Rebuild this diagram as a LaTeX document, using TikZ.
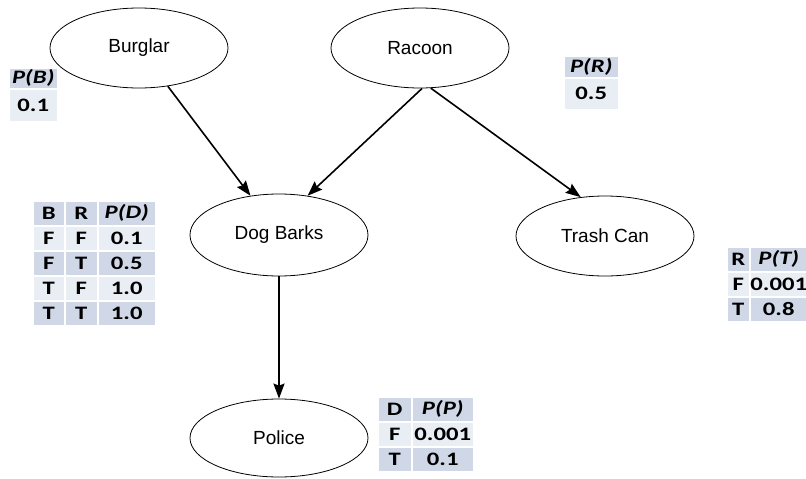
\documentclass[tikz,border=0pt]{standalone}
\usepackage{fontspec}
\setmainfont{Liberation Sans}
\newfontfamily\tabfont[FakeStretch=1.3]{Carlito}
\usetikzlibrary{arrows.meta,shapes.geometric}
\definecolor{dk}{HTML}{D0D8E8}
\definecolor{lt}{HTML}{E9EDF4}
\tikzset{
  var/.style={ellipse, draw=black, line width=0.8pt, minimum width=178pt, minimum height=80pt, inner sep=0pt, font=\fontsize{19}{21}\selectfont},
  edge/.style={line width=1.6pt, -{Stealth[length=15pt,width=11pt,inset=2pt]}},
  cell/.style={rectangle, draw=white, line width=1.5pt, inner sep=0pt, anchor=north west, font=\tabfont\bfseries\fontsize{19}{20}\selectfont},
}
\newcommand{\cellbox}[7]{% name, x, y, w, h, color, text
  \node[cell, fill=#6, minimum width=#4pt, minimum height=#5pt] (#1) at (#2,#3) {#7};}
\begin{document}
\begin{tikzpicture}[x=1pt,y=-1pt]
\useasboundingbox (0,0) rectangle (806,479);
\node[var] (burglar) at (139,48) {Burglar};
\node[var] (racoon) at (420,48) {Racoon};
\node[var, minimum height=82pt] (dog) at (279,235) {Dog Barks};
\node[var] (trash) at (605,236) {Trash Can};
\node[var, minimum height=78pt] (police) at (279,438) {Police};

\draw[edge] (burglar.-53) -- (dog.126);
\draw[edge] (racoon.-87) -- (dog.54);
\draw[edge] (racoon.-75) -- (trash.122);
\draw[edge] (dog.south) -- (police.north);

% P(B)
\cellbox{pbh}{8}{67}{49}{21}{dk}{\itshape P(B)}
\cellbox{pbv}{8}{88}{49}{33}{lt}{0.1}
% P(R)
\cellbox{prh}{563}{55}{55}{22}{dk}{\itshape P(R)}
\cellbox{prv}{563}{77}{55}{32}{lt}{0.5}
% Dog table
\cellbox{d00}{32}{200}{32}{25}{dk}{B}
\cellbox{d01}{64}{200}{33}{25}{dk}{R}
\cellbox{d02}{97}{200}{58}{25}{dk}{\itshape P(D)}
\cellbox{d10}{32}{225}{32}{25}{lt}{F}
\cellbox{d11}{64}{225}{33}{25}{lt}{F}
\cellbox{d12}{97}{225}{58}{25}{lt}{0.1}
\cellbox{d20}{32}{250}{32}{25}{dk}{F}
\cellbox{d21}{64}{250}{33}{25}{dk}{T}
\cellbox{d22}{97}{250}{58}{25}{dk}{0.5}
\cellbox{d30}{32}{275}{32}{25}{lt}{T}
\cellbox{d31}{64}{275}{33}{25}{lt}{F}
\cellbox{d32}{97}{275}{58}{25}{lt}{1.0}
\cellbox{d40}{32}{300}{32}{25}{dk}{T}
\cellbox{d41}{64}{300}{33}{25}{dk}{T}
\cellbox{d42}{97}{300}{58}{25}{dk}{1.0}
% Trash table
\cellbox{t00}{726}{246}{23}{25}{dk}{R}
\cellbox{t01}{749}{246}{58}{25}{dk}{\itshape P(T)}
\cellbox{t10}{726}{271}{23}{25}{lt}{F}
\cellbox{t11}{749}{271}{58}{25}{lt}{0.001}
\cellbox{t20}{726}{296}{23}{25}{dk}{T}
\cellbox{t21}{749}{296}{58}{25}{dk}{0.8}
% Police table
\cellbox{p00}{377}{396}{34}{25}{dk}{D}
\cellbox{p01}{411}{396}{62}{25}{dk}{\itshape P(P)}
\cellbox{p10}{377}{421}{34}{25}{lt}{F}
\cellbox{p11}{411}{421}{62}{25}{lt}{0.001}
\cellbox{p20}{377}{446}{34}{25}{dk}{T}
\cellbox{p21}{411}{446}{62}{25}{dk}{0.1}
\end{tikzpicture}
\end{document}
